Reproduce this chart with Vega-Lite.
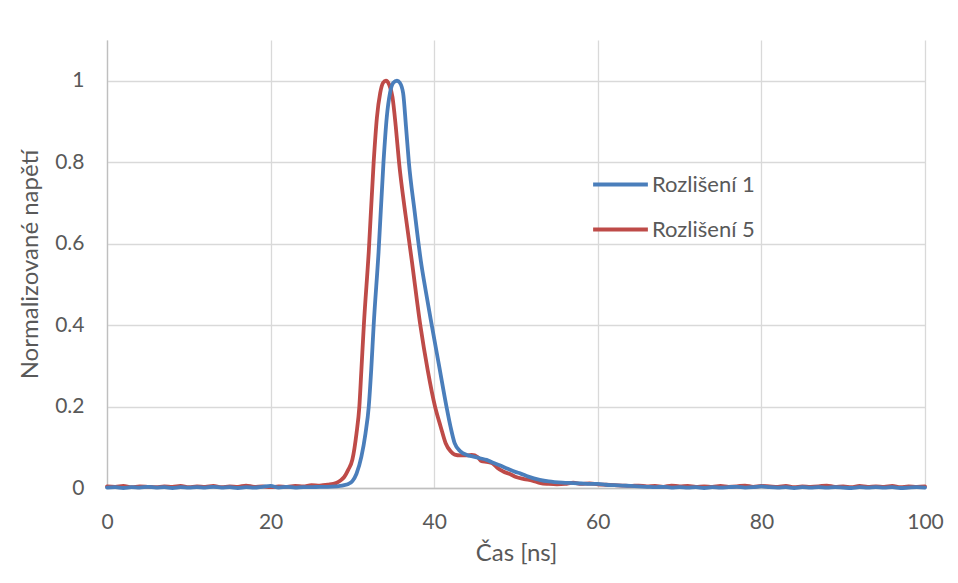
{
  "$schema": "https://vega.github.io/schema/vega-lite/v6.json",
  "autosize": "none",
  "width": 818,
  "height": 448,
  "padding": {"left": 107, "top": 40, "right": 33, "bottom": 95},
  "background": "white",
  "config": {
    "font": "Lato",
    "view": {"stroke": null},
    "axis": {
      "labelFont": "Lato", "titleFont": "Lato",
      "labelColor": "#595959", "titleColor": "#595959",
      "labelFontSize": 21, "titleFontSize": 24, "titleFontWeight": "normal",
      "gridColor": "#d9d9d9", "gridWidth": 1.3,
      "domainColor": "#bfbfbf", "domainWidth": 1.3,
      "ticks": false
    }
  },
  "data": {"values": [
    {"t":0,"v":0.004,"s":"Rozlišení 5"},{"t":1,"v":0.003,"s":"Rozlišení 5"},{"t":2,"v":0.005,"s":"Rozlišení 5"},{"t":3,"v":0.002,"s":"Rozlišení 5"},{"t":4,"v":0.004,"s":"Rozlišení 5"},{"t":5,"v":0.003,"s":"Rozlišení 5"},{"t":6,"v":0.002,"s":"Rozlišení 5"},{"t":7,"v":0.004,"s":"Rozlišení 5"},{"t":8,"v":0.003,"s":"Rozlišení 5"},{"t":9,"v":0.005,"s":"Rozlišení 5"},{"t":10,"v":0.002,"s":"Rozlišení 5"},{"t":11,"v":0.004,"s":"Rozlišení 5"},{"t":12,"v":0.003,"s":"Rozlišení 5"},{"t":13,"v":0.005,"s":"Rozlišení 5"},{"t":14,"v":0.002,"s":"Rozlišení 5"},{"t":15,"v":0.004,"s":"Rozlišení 5"},{"t":16,"v":0.003,"s":"Rozlišení 5"},{"t":17,"v":0.006,"s":"Rozlišení 5"},{"t":18,"v":0.003,"s":"Rozlišení 5"},{"t":19,"v":0.004,"s":"Rozlišení 5"},{"t":20,"v":0.002,"s":"Rozlišení 5"},{"t":21,"v":0.004,"s":"Rozlišení 5"},{"t":22,"v":0.003,"s":"Rozlišení 5"},{"t":23,"v":0.005,"s":"Rozlišení 5"},{"t":24,"v":0.004,"s":"Rozlišení 5"},{"t":25,"v":0.007,"s":"Rozlišení 5"},{"t":26,"v":0.006,"s":"Rozlišení 5"},{"t":27,"v":0.008,"s":"Rozlišení 5"},{"t":28,"v":0.012,"s":"Rozlišení 5"},{"t":28.5,"v":0.018,"s":"Rozlišení 5"},{"t":29,"v":0.027,"s":"Rozlišení 5"},{"t":29.5,"v":0.045,"s":"Rozlišení 5"},{"t":30,"v":0.07,"s":"Rozlišení 5"},{"t":30.5,"v":0.134,"s":"Rozlišení 5"},{"t":30.85,"v":0.2,"s":"Rozlišení 5"},{"t":31.1,"v":0.29,"s":"Rozlišení 5"},{"t":31.4,"v":0.4,"s":"Rozlišení 5"},{"t":32,"v":0.58,"s":"Rozlišení 5"},{"t":32.6,"v":0.8,"s":"Rozlišení 5"},{"t":33,"v":0.91,"s":"Rozlišení 5"},{"t":33.4,"v":0.97,"s":"Rozlišení 5"},{"t":33.75,"v":0.995,"s":"Rozlišení 5"},{"t":34.1,"v":1.0,"s":"Rozlišení 5"},{"t":34.5,"v":0.99,"s":"Rozlišení 5"},{"t":34.9,"v":0.96,"s":"Rozlišení 5"},{"t":35.3,"v":0.888,"s":"Rozlišení 5"},{"t":35.7,"v":0.8,"s":"Rozlišení 5"},{"t":36.5,"v":0.67,"s":"Rozlišení 5"},{"t":37.25,"v":0.56,"s":"Rozlišení 5"},{"t":38.3,"v":0.4,"s":"Rozlišení 5"},{"t":39.2,"v":0.29,"s":"Rozlišení 5"},{"t":40.1,"v":0.2,"s":"Rozlišení 5"},{"t":40.8,"v":0.15,"s":"Rozlišení 5"},{"t":41.4,"v":0.11,"s":"Rozlišení 5"},{"t":42,"v":0.09,"s":"Rozlišení 5"},{"t":42.5,"v":0.082,"s":"Rozlišení 5"},{"t":43.2,"v":0.08,"s":"Rozlišení 5"},{"t":44,"v":0.08,"s":"Rozlišení 5"},{"t":44.6,"v":0.081,"s":"Rozlišení 5"},{"t":45.3,"v":0.076,"s":"Rozlišení 5"},{"t":45.8,"v":0.066,"s":"Rozlišení 5"},{"t":46.4,"v":0.064,"s":"Rozlišení 5"},{"t":47.1,"v":0.061,"s":"Rozlišení 5"},{"t":47.7,"v":0.05,"s":"Rozlišení 5"},{"t":48.5,"v":0.04,"s":"Rozlišení 5"},{"t":49.3,"v":0.034,"s":"Rozlišení 5"},{"t":50,"v":0.027,"s":"Rozlišení 5"},{"t":51,"v":0.022,"s":"Rozlišení 5"},{"t":52,"v":0.018,"s":"Rozlišení 5"},{"t":53,"v":0.012,"s":"Rozlišení 5"},{"t":54,"v":0.01,"s":"Rozlišení 5"},{"t":55,"v":0.009,"s":"Rozlišení 5"},{"t":56,"v":0.01,"s":"Rozlišení 5"},{"t":57,"v":0.013,"s":"Rozlišení 5"},{"t":58,"v":0.01,"s":"Rozlišení 5"},{"t":59,"v":0.011,"s":"Rozlišení 5"},{"t":60,"v":0.009,"s":"Rozlišení 5"},{"t":61,"v":0.008,"s":"Rozlišení 5"},{"t":62,"v":0.007,"s":"Rozlišení 5"},{"t":63,"v":0.006,"s":"Rozlišení 5"},{"t":64,"v":0.005,"s":"Rozlišení 5"},{"t":65,"v":0.006,"s":"Rozlišení 5"},{"t":66,"v":0.004,"s":"Rozlišení 5"},{"t":67,"v":0.005,"s":"Rozlišení 5"},{"t":68,"v":0.003,"s":"Rozlišení 5"},{"t":69,"v":0.006,"s":"Rozlišení 5"},{"t":70,"v":0.004,"s":"Rozlišení 5"},{"t":71,"v":0.005,"s":"Rozlišení 5"},{"t":72,"v":0.003,"s":"Rozlišení 5"},{"t":73,"v":0.004,"s":"Rozlišení 5"},{"t":74,"v":0.003,"s":"Rozlišení 5"},{"t":75,"v":0.005,"s":"Rozlišení 5"},{"t":76,"v":0.003,"s":"Rozlišení 5"},{"t":77,"v":0.004,"s":"Rozlišení 5"},{"t":78,"v":0.006,"s":"Rozlišení 5"},{"t":79,"v":0.003,"s":"Rozlišení 5"},{"t":80,"v":0.005,"s":"Rozlišení 5"},{"t":81,"v":0.004,"s":"Rozlišení 5"},{"t":82,"v":0.003,"s":"Rozlišení 5"},{"t":83,"v":0.005,"s":"Rozlišení 5"},{"t":84,"v":0.002,"s":"Rozlišení 5"},{"t":85,"v":0.004,"s":"Rozlišení 5"},{"t":86,"v":0.003,"s":"Rozlišení 5"},{"t":87,"v":0.004,"s":"Rozlišení 5"},{"t":88,"v":0.006,"s":"Rozlišení 5"},{"t":89,"v":0.003,"s":"Rozlišení 5"},{"t":90,"v":0.004,"s":"Rozlišení 5"},{"t":91,"v":0.002,"s":"Rozlišení 5"},{"t":92,"v":0.005,"s":"Rozlišení 5"},{"t":93,"v":0.003,"s":"Rozlišení 5"},{"t":94,"v":0.004,"s":"Rozlišení 5"},{"t":95,"v":0.003,"s":"Rozlišení 5"},{"t":96,"v":0.005,"s":"Rozlišení 5"},{"t":97,"v":0.002,"s":"Rozlišení 5"},{"t":98,"v":0.004,"s":"Rozlišení 5"},{"t":99,"v":0.003,"s":"Rozlišení 5"},{"t":100,"v":0.004,"s":"Rozlišení 5"},
    {"t":0,"v":0.001,"s":"Rozlišení 1"},{"t":1,"v":0.002,"s":"Rozlišení 1"},{"t":2,"v":0.0,"s":"Rozlišení 1"},{"t":3,"v":0.002,"s":"Rozlišení 1"},{"t":4,"v":0.001,"s":"Rozlišení 1"},{"t":5,"v":0.003,"s":"Rozlišení 1"},{"t":6,"v":0.001,"s":"Rozlišení 1"},{"t":7,"v":0.002,"s":"Rozlišení 1"},{"t":8,"v":0.0,"s":"Rozlišení 1"},{"t":9,"v":0.002,"s":"Rozlišení 1"},{"t":10,"v":0.001,"s":"Rozlišení 1"},{"t":11,"v":0.002,"s":"Rozlišení 1"},{"t":12,"v":0.001,"s":"Rozlišení 1"},{"t":13,"v":0.003,"s":"Rozlišení 1"},{"t":14,"v":0.001,"s":"Rozlišení 1"},{"t":15,"v":0.002,"s":"Rozlišení 1"},{"t":16,"v":0.0,"s":"Rozlišení 1"},{"t":17,"v":0.002,"s":"Rozlišení 1"},{"t":18,"v":0.001,"s":"Rozlišení 1"},{"t":19,"v":0.003,"s":"Rozlišení 1"},{"t":20,"v":0.005,"s":"Rozlišení 1"},{"t":21,"v":0.001,"s":"Rozlišení 1"},{"t":22,"v":0.003,"s":"Rozlišení 1"},{"t":23,"v":0.001,"s":"Rozlišení 1"},{"t":24,"v":0.002,"s":"Rozlišení 1"},{"t":25,"v":0.002,"s":"Rozlišení 1"},{"t":26,"v":0.003,"s":"Rozlišení 1"},{"t":27,"v":0.003,"s":"Rozlišení 1"},{"t":28,"v":0.004,"s":"Rozlišení 1"},{"t":28.5,"v":0.005,"s":"Rozlišení 1"},{"t":29,"v":0.007,"s":"Rozlišení 1"},{"t":29.5,"v":0.01,"s":"Rozlišení 1"},{"t":30,"v":0.017,"s":"Rozlišení 1"},{"t":30.5,"v":0.035,"s":"Rozlišení 1"},{"t":31.1,"v":0.077,"s":"Rozlišení 1"},{"t":31.6,"v":0.134,"s":"Rozlišení 1"},{"t":32,"v":0.2,"s":"Rozlišení 1"},{"t":32.3,"v":0.29,"s":"Rozlišení 1"},{"t":32.6,"v":0.4,"s":"Rozlišení 1"},{"t":33.2,"v":0.58,"s":"Rozlišení 1"},{"t":33.8,"v":0.8,"s":"Rozlišení 1"},{"t":34.2,"v":0.91,"s":"Rozlišení 1"},{"t":34.6,"v":0.97,"s":"Rozlišení 1"},{"t":35,"v":0.995,"s":"Rozlišení 1"},{"t":35.45,"v":1.0,"s":"Rozlišení 1"},{"t":35.8,"v":0.995,"s":"Rozlišení 1"},{"t":36.2,"v":0.97,"s":"Rozlišení 1"},{"t":36.55,"v":0.888,"s":"Rozlišení 1"},{"t":36.9,"v":0.8,"s":"Rozlišení 1"},{"t":37.6,"v":0.68,"s":"Rozlišení 1"},{"t":38.35,"v":0.56,"s":"Rozlišení 1"},{"t":39,"v":0.48,"s":"Rozlišení 1"},{"t":39.7,"v":0.4,"s":"Rozlišení 1"},{"t":40.6,"v":0.3,"s":"Rozlišení 1"},{"t":41.5,"v":0.2,"s":"Rozlišení 1"},{"t":42,"v":0.15,"s":"Rozlišení 1"},{"t":42.5,"v":0.11,"s":"Rozlišení 1"},{"t":43.2,"v":0.09,"s":"Rozlišení 1"},{"t":44,"v":0.081,"s":"Rozlišení 1"},{"t":44.8,"v":0.077,"s":"Rozlišení 1"},{"t":45.6,"v":0.073,"s":"Rozlišení 1"},{"t":46.4,"v":0.069,"s":"Rozlišení 1"},{"t":47.2,"v":0.062,"s":"Rozlišení 1"},{"t":48,"v":0.056,"s":"Rozlišení 1"},{"t":49,"v":0.047,"s":"Rozlišení 1"},{"t":50,"v":0.039,"s":"Rozlišení 1"},{"t":50.5,"v":0.036,"s":"Rozlišení 1"},{"t":51.5,"v":0.028,"s":"Rozlišení 1"},{"t":52.9,"v":0.02,"s":"Rozlišení 1"},{"t":54,"v":0.016,"s":"Rozlišení 1"},{"t":55.7,"v":0.013,"s":"Rozlišení 1"},{"t":57,"v":0.012,"s":"Rozlišení 1"},{"t":58,"v":0.011,"s":"Rozlišení 1"},{"t":59,"v":0.01,"s":"Rozlišení 1"},{"t":60,"v":0.01,"s":"Rozlišení 1"},{"t":61,"v":0.008,"s":"Rozlišení 1"},{"t":62,"v":0.007,"s":"Rozlišení 1"},{"t":63,"v":0.006,"s":"Rozlišení 1"},{"t":64,"v":0.005,"s":"Rozlišení 1"},{"t":65,"v":0.004,"s":"Rozlišení 1"},{"t":66,"v":0.003,"s":"Rozlišení 1"},{"t":67,"v":0.002,"s":"Rozlišení 1"},{"t":68,"v":0.003,"s":"Rozlišení 1"},{"t":69,"v":0.001,"s":"Rozlišení 1"},{"t":70,"v":0.002,"s":"Rozlišení 1"},{"t":71,"v":0.001,"s":"Rozlišení 1"},{"t":72,"v":0.002,"s":"Rozlišení 1"},{"t":73,"v":0.0,"s":"Rozlišení 1"},{"t":74,"v":0.002,"s":"Rozlišení 1"},{"t":75,"v":0.001,"s":"Rozlišení 1"},{"t":76,"v":0.002,"s":"Rozlišení 1"},{"t":77,"v":0.003,"s":"Rozlišení 1"},{"t":78,"v":0.001,"s":"Rozlišení 1"},{"t":79,"v":0.002,"s":"Rozlišení 1"},{"t":80,"v":0.004,"s":"Rozlišení 1"},{"t":81,"v":0.002,"s":"Rozlišení 1"},{"t":82,"v":0.001,"s":"Rozlišení 1"},{"t":83,"v":0.002,"s":"Rozlišení 1"},{"t":84,"v":0.0,"s":"Rozlišení 1"},{"t":85,"v":0.002,"s":"Rozlišení 1"},{"t":86,"v":0.001,"s":"Rozlišení 1"},{"t":87,"v":0.002,"s":"Rozlišení 1"},{"t":88,"v":0.001,"s":"Rozlišení 1"},{"t":89,"v":0.002,"s":"Rozlišení 1"},{"t":90,"v":0.001,"s":"Rozlišení 1"},{"t":91,"v":0.0,"s":"Rozlišení 1"},{"t":92,"v":0.002,"s":"Rozlišení 1"},{"t":93,"v":0.001,"s":"Rozlišení 1"},{"t":94,"v":0.002,"s":"Rozlišení 1"},{"t":95,"v":0.001,"s":"Rozlišení 1"},{"t":96,"v":0.002,"s":"Rozlišení 1"},{"t":97,"v":0.0,"s":"Rozlišení 1"},{"t":98,"v":0.001,"s":"Rozlišení 1"},{"t":99,"v":0.002,"s":"Rozlišení 1"},{"t":100,"v":0.001,"s":"Rozlišení 1"}
  ]},
  "mark": {"type": "line", "strokeWidth": 3.8, "interpolate": "monotone", "strokeCap": "round"},
  "encoding": {
    "x": {
      "field": "t", "type": "quantitative",
      "scale": {"domain": [0, 100], "nice": false},
      "axis": {"title": "Čas [ns]", "values": [0, 20, 40, 60, 80, 100], "labelPadding": 23, "titlePadding": 9, "labelFlush": false}
    },
    "y": {
      "field": "v", "type": "quantitative",
      "scale": {"domain": [0, 1.1], "nice": false},
      "axis": {"title": "Normalizované napětí", "values": [0, 0.2, 0.4, 0.6, 0.8, 1], "labelPadding": 23, "titlePadding": 12, "format": "~g"}
    },
    "color": {
      "field": "s", "type": "nominal",
      "scale": {"domain": ["Rozlišení 1", "Rozlišení 5"], "range": ["#4A7EBB", "#BE4B48"]},
      "legend": {
        "title": null, "orient": "none", "legendX": 484, "legendY": 115,
        "symbolType": "stroke", "symbolSize": 3000, "symbolStrokeWidth": 3.8,
        "labelFontSize": 22, "labelColor": "#595959", "labelFont": "Lato",
        "labelOffset": 2, "rowPadding": 4
      }
    }
  }
}
